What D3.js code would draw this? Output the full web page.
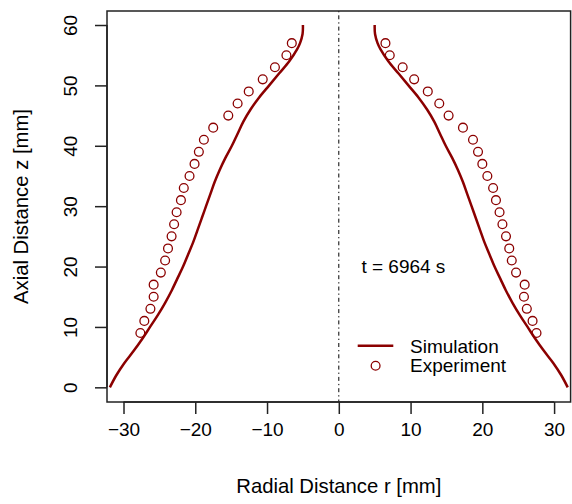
<!DOCTYPE html>
<html>
<head>
<meta charset="utf-8">
<script src="https://cdn.jsdelivr.net/npm/d3@7"></script>
<style>
  html, body { margin: 0; padding: 0; background: #fff; }
  text { font-family: "Liberation Sans", Arial, Helvetica, sans-serif; fill: #000; }
</style>
</head>
<body>
<svg id="chart" width="572" height="504"></svg>
<script>
// ---- data ----
const simZ = [60, 58.5, 57, 56, 54, 52, 50, 48, 46, 44, 42, 40, 38, 36, 34, 32, 30, 28, 26, 24, 22, 20, 18, 16, 14, 12, 10, 8, 6, 4, 2, 0];
const simR = [5.0, 5.05, 5.4, 5.8, 6.9, 8.3, 9.7, 11.1, 12.3, 13.3, 14.1, 14.9, 15.8, 16.6, 17.3, 17.9, 18.5, 19.1, 19.7, 20.3, 21.0, 21.7, 22.5, 23.3, 24.2, 25.2, 26.3, 27.4, 28.6, 29.9, 31.0, 31.9];
const expZ = [9, 11, 13, 15, 17, 19, 21, 23, 25, 27, 29, 31, 33, 35, 37, 39, 41, 43, 45, 47, 49, 51, 53, 55, 57];
const expRRight = [27.55, 27.0, 26.2, 25.8, 25.9, 24.7, 24.1, 23.75, 23.3, 22.8, 22.4, 21.9, 21.5, 20.7, 20.0, 19.4, 18.7, 17.3, 15.3, 14.0, 12.4, 10.5, 8.9, 7.1, 6.5];
const expRLeft = [-27.65, -27.1, -26.25, -25.8, -25.8, -24.8, -24.2, -23.8, -23.3, -22.95, -22.6, -22.0, -21.6, -20.8, -20.1, -19.5, -18.8, -17.5, -15.4, -14.1, -12.55, -10.6, -8.9, -7.3, -6.55];
const xTicks = [-30, -20, -10, 0, 10, 20, 30];
const yTicks = [0, 10, 20, 30, 40, 50, 60];
const labels = { x: "Radial Distance r [mm]", y: "Axial Distance z [mm]", note: "t = 6964 s", sim: "Simulation", exp: "Experiment" };

// ---- layout ----
const color = "#8B0000";
const fs = 19;
const fsTitle = 20.3;
const svg = d3.select("#chart");
const x = d3.scaleLinear().domain([-32.3, 32.3]).range([107, 570.6]);
const y = d3.scaleLinear().domain([-2.43, 62.32]).range([402, 11]);

// zero line
svg.append("line")
  .attr("x1", x(0)).attr("x2", x(0))
  .attr("y1", y.range()[1]).attr("y2", y.range()[0])
  .attr("stroke", "#000").attr("stroke-width", 1)
  .attr("stroke-dasharray", "1.3,3,4,3");

// simulation curves
const line = d3.line().x(d => x(d[0])).y(d => y(d[1])).curve(d3.curveCatmullRom);
const simRight = simR.map((r, i) => [r, simZ[i]]);
const simLeft = simR.map((r, i) => [-r, simZ[i]]);
[simRight, simLeft].forEach(pts => {
  svg.append("path").attr("d", line(pts))
    .attr("fill", "none").attr("stroke", color).attr("stroke-width", 2.5);
});

// experiment points
const pts = expZ.map((z, i) => [expRRight[i], z]).concat(expZ.map((z, i) => [expRLeft[i], z]));
svg.selectAll("circle.exp").data(pts).enter().append("circle")
  .attr("class", "exp")
  .attr("cx", d => x(d[0])).attr("cy", d => y(d[1])).attr("r", 4.4)
  .attr("fill", "none").attr("stroke", color).attr("stroke-width", 1.3);

// box
svg.append("rect")
  .attr("x", 107).attr("y", 11).attr("width", 570.6 - 107).attr("height", 402 - 11)
  .attr("fill", "none").attr("stroke", "#222").attr("stroke-width", 1.5);

// axes
const xAxis = d3.axisBottom(x).tickValues(xTicks).tickSize(12).tickPadding(9)
  .tickFormat(d => d3.format("")(d).replace("-", "\u2212"));
const gx = svg.append("g").attr("transform", "translate(0,402)").call(xAxis);
gx.select(".domain").attr("d", `M${x(-30)},0H${x(30)}`).attr("stroke", "#222").attr("stroke-width", 1.5);
gx.selectAll(".tick line").attr("stroke", "#222").attr("stroke-width", 1.5);
gx.selectAll(".tick text").attr("font-size", fs).attr("font-family", "Liberation Sans, Arial, sans-serif").attr("fill", "#000");

const yAxis = d3.axisLeft(y).tickValues(yTicks).tickSize(12).tickFormat(d3.format(""));
const gy = svg.append("g").attr("transform", "translate(107,0)").call(yAxis);
gy.select(".domain").attr("d", `M0,${y(0)}V${y(60)}`).attr("stroke", "#222").attr("stroke-width", 1.5);
gy.selectAll(".tick line").attr("stroke", "#222").attr("stroke-width", 1.5);
gy.selectAll(".tick text")
  .attr("font-size", fs).attr("font-family", "Liberation Sans, Arial, sans-serif").attr("fill", "#000")
  .attr("x", null).attr("dy", null)
  .attr("text-anchor", "middle")
  .attr("transform", "translate(-30.5,0) rotate(-90)");

// axis titles
svg.append("text").attr("x", x(0)).attr("y", 493)
  .attr("text-anchor", "middle").attr("font-size", fsTitle).text(labels.x);
svg.append("text").attr("transform", `translate(27.5,${(11 + 402) / 2}) rotate(-90)`)
  .attr("text-anchor", "middle").attr("font-size", fsTitle).text(labels.y);

// annotation
svg.append("text").attr("x", x(9)).attr("y", y(20) + 6.5)
  .attr("text-anchor", "middle").attr("font-size", fs).text(labels.note);

// legend
svg.append("line").attr("x1", 357.7).attr("x2", 393.3).attr("y1", 345.7).attr("y2", 345.7)
  .attr("stroke", color).attr("stroke-width", 2.5);
svg.append("circle").attr("cx", 375.6).attr("cy", 365.7).attr("r", 4.4)
  .attr("fill", "none").attr("stroke", color).attr("stroke-width", 1.3);
svg.append("text").attr("x", 410).attr("y", 352.5).attr("font-size", fs).text(labels.sim);
svg.append("text").attr("x", 410).attr("y", 372).attr("font-size", fs).text(labels.exp);
</script>
</body>
</html>
